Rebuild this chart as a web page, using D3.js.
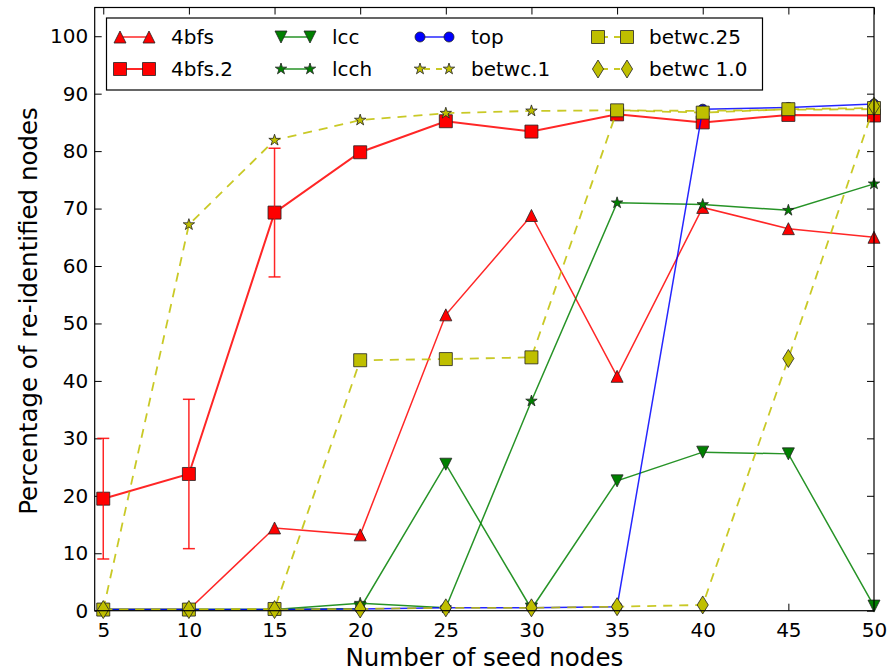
<!DOCTYPE html>
<html>
<head>
<meta charset="utf-8">
<script src="https://cdn.jsdelivr.net/npm/d3@7"></script>
<style>
  body { margin: 0; background: #fff; }
  #graf { width: 888px; height: 672px; }
  text { font-family: 'DejaVu Sans', sans-serif; fill: #000; }
</style>
</head>
<body>
<div id="graf"></div>
<script>
// I. Datos
seeds = [5, 10, 15, 20, 25, 30, 35, 40, 45, 50]

bfs4    = [0.2, 0.2, 14.4, 13.2, 51.5, 68.8, 40.8, 70.2, 66.5, 65.0]
bfs4_2  = [19.5, 23.8, 69.3, 79.8, 85.2, 83.4, 86.4, 85.0, 86.3, 86.2]
bfs4_2e = [10.5, 13.0, 11.2, 0, 0, 0, 0, 0, 0, 0]
lcc     = [0.2, 0.2, 0.2, 0.4, 25.5, 0.3, 22.6, 27.6, 27.3, 0.8]
lcch    = [0.2, 0.2, 0.2, 1.3, 0.5, 36.5, 71.0, 70.7, 69.7, 74.3]
topSer  = [0.2, 0.2, 0.2, 0.3, 0.5, 0.5, 0.7, 87.3, 87.6, 88.2]
betwc1  = [0.2, 67.2, 81.9, 85.4, 86.6, 87.0, 87.1, 87.0, 87.2, 87.3]
betwc25 = [0.2, 0.2, 0.3, 43.6, 43.8, 44.1, 87.1, 86.7, 87.3, 87.5]
betwc10 = [0.2, 0.2, 0.2, 0.3, 0.5, 0.5, 0.7, 1.0, 43.9, 87.8]

xTicks = [5, 10, 15, 20, 25, 30, 35, 40, 45, 50]
yTicks = [0, 10, 20, 30, 40, 50, 60, 70, 80, 90, 100]

// Series en el orden en que se dibujan (y orden de la leyenda, por columnas)
series = [
  { name: '4bfs',      values: bfs4,    color: '#ff0000', marker: 'tri',  size: 6,   dash: null, lw: 1.5 },
  { name: '4bfs.2',    values: bfs4_2,  color: '#ff0000', marker: 'sq',   size: 6.5, dash: null, lw: 2, err: bfs4_2e },
  { name: 'lcc',       values: lcc,     color: '#008000', marker: 'tridown', size: 6, dash: null, lw: 1.5 },
  { name: 'lcch',      values: lcch,    color: '#008000', marker: 'star', size: 6,   dash: null, lw: 1.5 },
  { name: 'top',       values: topSer,  color: '#0000ff', marker: 'circ', size: 5,   dash: null, lw: 1.5 },
  { name: 'betwc.1',   values: betwc1,  color: '#bfbf00', marker: 'star', size: 6,   dash: '9,7', lw: 1.8 },
  { name: 'betwc.25',  values: betwc25, color: '#bfbf00', marker: 'sq',   size: 6.5, dash: '9,7', lw: 1.8 },
  { name: 'betwc 1.0', values: betwc10, color: '#bfbf00', marker: 'diam', size: 9,   dash: '9,7', lw: 1.8 }
]

// II. Configuración del área
ancho_total = 888
alto_total = 672
margins = { top: 7.5, left: 94.7, right: 14, bottom: 61.3 }
ancho = ancho_total - margins.left - margins.right
alto = alto_total - margins.top - margins.bottom

svg = d3.select('#graf').append('svg')
        .attr('width', ancho_total)
        .attr('height', alto_total)

g = svg.append('g')
       .attr('transform', `translate(${ margins.left }, ${ margins.top })`)

x = d3.scaleLinear().domain([4.5, 50]).range([0, ancho])
y = d3.scaleLinear().domain([0, 105]).range([alto, 0])

// Fondo
g.append('rect')
 .attr('width', ancho)
 .attr('height', alto)
 .attr('fill', '#fff')

// Función para los marcadores (tipo matplotlib)
function markerPath(tipo, r) {
  p = d3.path()
  if (tipo == 'tri') {
    p.moveTo(0, -r); p.lineTo(r, r); p.lineTo(-r, r); p.closePath()
  } else if (tipo == 'tridown') {
    p.moveTo(0, r); p.lineTo(r, -r); p.lineTo(-r, -r); p.closePath()
  } else if (tipo == 'sq') {
    p.rect(-r, -r, 2 * r, 2 * r)
  } else if (tipo == 'circ') {
    p.arc(0, 0, r, 0, 2 * Math.PI); p.closePath()
  } else if (tipo == 'diam') {
    p.moveTo(0, -r); p.lineTo(r * 0.62, 0); p.lineTo(0, r); p.lineTo(-r * 0.62, 0); p.closePath()
  } else if (tipo == 'star') {
    for (i = 0; i < 10; i++) {
      rr = i % 2 == 0 ? r : r * 0.382
      a = -Math.PI / 2 + i * Math.PI / 5
      if (i == 0) p.moveTo(rr * Math.cos(a), rr * Math.sin(a))
      else p.lineTo(rr * Math.cos(a), rr * Math.sin(a))
    }
    p.closePath()
  }
  return p.toString()
}

// III. Ejes (ticks hacia adentro en los 4 lados)
xAxisGroup = g.append('g')
              .attr('transform', `translate(0, ${ alto })`)
              .call(d3.axisBottom(x).tickValues(xTicks).tickSizeInner(-7).tickSizeOuter(0).tickPadding(12).tickFormat(d3.format('d')))
yAxisGroup = g.append('g')
              .call(d3.axisLeft(y).tickValues(yTicks).tickSizeInner(-7).tickSizeOuter(0).tickPadding(6.5).tickFormat(d3.format('d')))
topAxis = g.append('g')
           .call(d3.axisTop(x).tickValues(xTicks).tickSizeInner(-7).tickSizeOuter(0).tickFormat(''))
rightAxis = g.append('g')
             .attr('transform', `translate(${ ancho }, 0)`)
             .call(d3.axisRight(y).tickValues(yTicks).tickSizeInner(-7).tickSizeOuter(0).tickFormat(''))

g.selectAll('.domain').remove()
g.selectAll('.tick line').attr('stroke', '#000').attr('stroke-width', 1)
g.selectAll('.tick text')
 .attr('font-family', "'DejaVu Sans', sans-serif")
 .attr('font-size', '20px')
 .attr('fill', '#000')

// IV. Series
plot = g.append('g')
line = d3.line()
         .x((d, i) => x(seeds[i]))
         .y(d => y(d))

series.forEach(s => {
  sg = plot.append('g')
  sg.append('path')
    .datum(s.values)
    .attr('d', line)
    .attr('fill', 'none')
    .attr('stroke', s.color)
    .attr('stroke-width', s.lw)
    .attr('stroke-opacity', 0.85)
    .attr('stroke-dasharray', s.dash)

  sg.selectAll('path.mk')
    .data(s.values)
    .enter()
    .append('path')
      .attr('class', 'mk')
      .attr('d', markerPath(s.marker, s.size))
      .attr('transform', (d, i) => `translate(${ x(seeds[i]) }, ${ y(d) })`)
      .attr('fill', s.color)
      .attr('stroke', '#222')
      .attr('stroke-width', 0.8)

  // barras de error
  if (s.err) {
    errs = s.values.map((v, i) => ({ x: seeds[i], v: v, e: s.err[i] })).filter(d => d.e > 0)
    eg = sg.append('g')
           .attr('stroke', s.color)
           .attr('stroke-width', 1.5)
           .attr('stroke-opacity', 0.85)
    eg.selectAll('line.bar')
      .data(errs)
      .enter()
      .append('line')
        .attr('x1', d => x(d.x)).attr('x2', d => x(d.x))
        .attr('y1', d => y(d.v - d.e)).attr('y2', d => y(d.v + d.e))
    eg.selectAll('line.caplo')
      .data(errs)
      .enter()
      .append('line')
        .attr('x1', d => x(d.x) - 6).attr('x2', d => x(d.x) + 6)
        .attr('y1', d => y(d.v - d.e)).attr('y2', d => y(d.v - d.e))
    eg.selectAll('line.caphi')
      .data(errs)
      .enter()
      .append('line')
        .attr('x1', d => x(d.x) - 6).attr('x2', d => x(d.x) + 6)
        .attr('y1', d => y(d.v + d.e)).attr('y2', d => y(d.v + d.e))
  }
})

// Marco
g.append('rect')
 .attr('width', ancho)
 .attr('height', alto)
 .attr('fill', 'none')
 .attr('stroke', '#000')
 .attr('stroke-width', 1.2)

// V. Leyenda (4 columnas, 2 filas)
legX = [120, 281, 420, 598]
legY = [37, 69]
leyenda = svg.append('g')
leyenda.append('rect')
       .attr('x', 106.5).attr('y', 18)
       .attr('width', 656).attr('height', 72)
       .attr('fill', '#fff')
       .attr('stroke', '#000')
       .attr('stroke-width', 1.2)

series.forEach((s, k) => {
  cx = legX[Math.floor(k / 2)]
  cy = legY[k % 2]
  item = leyenda.append('g').attr('transform', `translate(${ cx }, ${ cy })`)
  item.append('line')
      .attr('x1', 0).attr('x2', 29)
      .attr('stroke', s.color)
      .attr('stroke-width', s.lw)
      .attr('stroke-opacity', 0.85)
      .attr('stroke-dasharray', s.dash ? '6,6' : null)
      .attr('stroke-dashoffset', s.dash ? -4 : null)
  ;[0, 29].forEach(dx => {
    item.append('path')
        .attr('d', markerPath(s.marker, s.size))
        .attr('transform', `translate(${ dx }, 0)`)
        .attr('fill', s.color)
        .attr('stroke', '#222')
        .attr('stroke-width', 0.8)
  })
  item.append('text')
      .attr('x', 51)
      .attr('y', 0)
      .attr('dy', '0.36em')
      .attr('font-size', '20px')
      .text(s.name)
})

// VI. Títulos de ejes
svg.append('text')
   .attr('x', margins.left + ancho / 2)
   .attr('y', 666)
   .attr('text-anchor', 'middle')
   .attr('font-size', '24.5px')
   .text('Number of seed nodes')

svg.append('text')
   .attr('transform', 'translate(36.5, 311) rotate(-90)')
   .attr('text-anchor', 'middle')
   .attr('font-size', '24.5px')
   .text('Percentage of re-identified nodes')
</script>
</body>
</html>
